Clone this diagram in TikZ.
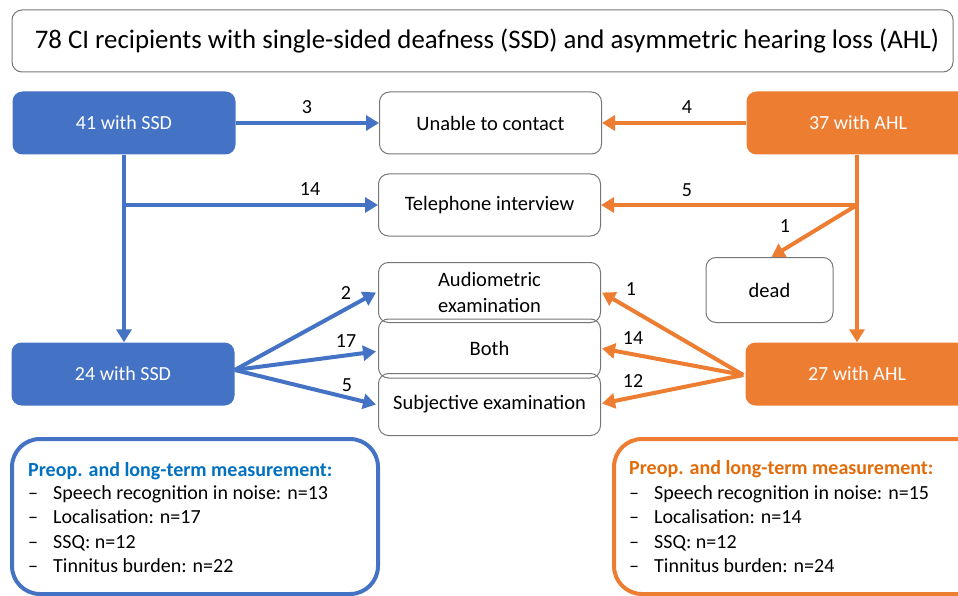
\documentclass[tikz,border=0pt]{standalone}
\usepackage{fontspec}
\setmainfont{Carlito}
\usetikzlibrary{arrows.meta,calc}
\definecolor{cblue}{HTML}{4472C4}
\definecolor{corange}{HTML}{ED7D31}
\definecolor{hblue}{HTML}{0070C0}
\definecolor{horange}{HTML}{E36C0A}
\definecolor{gline}{HTML}{767676}
\begin{document}
\begin{tikzpicture}[x=1pt,y=-1pt,
  txt/.style={font=\fontsize{20}{25}\selectfont},
  wtxt/.style={font=\fontsize{20.5}{25}\selectfont},
  wbox/.style={wtxt,draw=gline,line width=1pt,rounded corners=10pt,minimum width=222pt,minimum height=62pt,align=center,inner sep=0pt},
  bbox/.style={txt,fill=cblue,text=white,rounded corners=10pt,minimum width=223pt,minimum height=63pt,inner sep=0pt},
  obox/.style={bbox,fill=corange},
  barr/.style={draw=cblue,line width=4pt,-{Triangle[length=13pt,width=15pt]}},
  oarr/.style={barr,draw=corange},
  lbl/.style={txt,inner sep=0pt},
  item/.style={txt,anchor=west,inner sep=0pt,text height=14pt,text depth=4pt},
  head/.style={item,font=\fontsize{20}{25}\selectfont\bfseries}]
\useasboundingbox (0,0) rectangle (958,596);
\clip (0,0) rectangle (958,596);
% title
\node[draw=gline,line width=1pt,rounded corners=10pt,minimum width=941pt,minimum height=62pt,inner sep=0pt,font=\fontsize{26.8}{30}\selectfont] (title) at (482.5,41) {\hspace*{9pt}78 CI recipients with single-sided deafness (SSD) and asymmetric hearing loss (AHL)};
% coloured boxes
\node[bbox] (s41) at (124,123) {41 with SSD};
\node[bbox] (s24) at (123,374) {24 with SSD};
\node[obox] (a37) at (858,123) {37 with AHL};
\node[obox] (a27) at (857,374) {27 with AHL};
% white boxes
\node[wbox] (unable) at (490.5,123) {Unable to contact};
\node[wbox] (tel) at (489.5,205) {Telephone interview};
\node[wbox,minimum height=60pt] (aud) at (489.5,292.5) {Audiometric\\[1pt]examination};
\node[wbox,minimum height=59pt] (both) at (489.5,348.5) {Both};
\node[wbox] (subj) at (489.5,404.5) {Subjective examination};
\node[wbox,minimum width=127pt,minimum height=65pt] (dead) at (769.5,290) {dead};
% branch points
\coordinate (bsplit) at (s41.south |- tel.west);
\coordinate (osplit) at (857,205);
% blue arrows
\draw[barr] (s41.east) -- (unable.west);
\draw[draw=cblue,line width=4pt] (s41.south -| bsplit) -- (bsplit);
\draw[barr] (bsplit) -- (s24.north -| bsplit);
\draw[barr] (bsplit) -- (tel.west);
\coordinate (bfan) at ($(s24.east)+(0,-4)$);
\draw[barr] (bfan) -- ($(aud.west)+(-2,0)$);
\draw[barr] (bfan) -- ($(both.west)+(-2,3)$);
\draw[barr] (bfan) -- ($(subj.west)+(-2,0)$);
% orange arrows
\draw[oarr] (a37.west) -- (unable.east);
\draw[draw=corange,line width=4pt] (a37.south -| osplit) -- (osplit);
\draw[oarr] (osplit) -- (a27.north -| osplit);
\draw[oarr] (osplit) -- (tel.east);
\draw[oarr] (osplit) -- ($(dead.north)+(2,0)$);
\coordinate (ofan) at ($(a27.west)+(-2,1)$);
\draw[oarr] (ofan) -- ($(aud.east)+(1,0)$);
\draw[oarr] (ofan) -- ($(both.east)+(1,0)$);
\draw[oarr] (ofan) -- ($(subj.east)+(1,-1)$);
% labels
\node[lbl] (l3) at (307,107) {3};
\node[lbl] (l14) at (310,189) {14};
\node[lbl] (l2) at (346,293) {2};
\node[lbl] (l17) at (346,341) {17};
\node[lbl] (l5b) at (347,385) {5};
\node[lbl] (l4) at (687,107) {4};
\node[lbl] (l5o) at (687,190) {5};
\node[lbl] (l1d) at (785,226) {1};
\node[lbl] (l1a) at (631,289) {1};
\node[lbl] (l14o) at (633,338) {14};
\node[lbl] (l12) at (633,381) {12};
% bottom boxes
\draw[cblue,line width=4pt,rounded corners=28pt] (12,439) rectangle (378,594);
\draw[corange,line width=4pt,rounded corners=28pt] (614,439) rectangle (990,594);
\node[head,text=hblue] (hb) at (28,471) {Preop. and long-term measurement:};
\node[item] (db1) at (28,494) {--};
\node[item] (db2) at (28,518) {--};
\node[item] (db3) at (28,543) {--};
\node[item] (db4) at (28,567) {--};
\node[item] (tb1) at (53,494) {Speech recognition in noise: n=13};
\node[item] (tb2) at (53,518) {Localisation: n=17};
\node[item] (tb3) at (53,543) {SSQ: n=12};
\node[item] (tb4) at (53,567) {Tinnitus burden: n=22};
\node[head,text=horange] (ho) at (629,469) {Preop. and long-term measurement:};
\node[item] (do1) at (629,494) {--};
\node[item] (do2) at (629,518) {--};
\node[item] (do3) at (629,543) {--};
\node[item] (do4) at (629,567) {--};
\node[item] (to1) at (654,494) {Speech recognition in noise: n=15};
\node[item] (to2) at (654,518) {Localisation: n=14};
\node[item] (to3) at (654,543) {SSQ: n=12};
\node[item] (to4) at (654,567) {Tinnitus burden: n=24};
\end{tikzpicture}
\end{document}
